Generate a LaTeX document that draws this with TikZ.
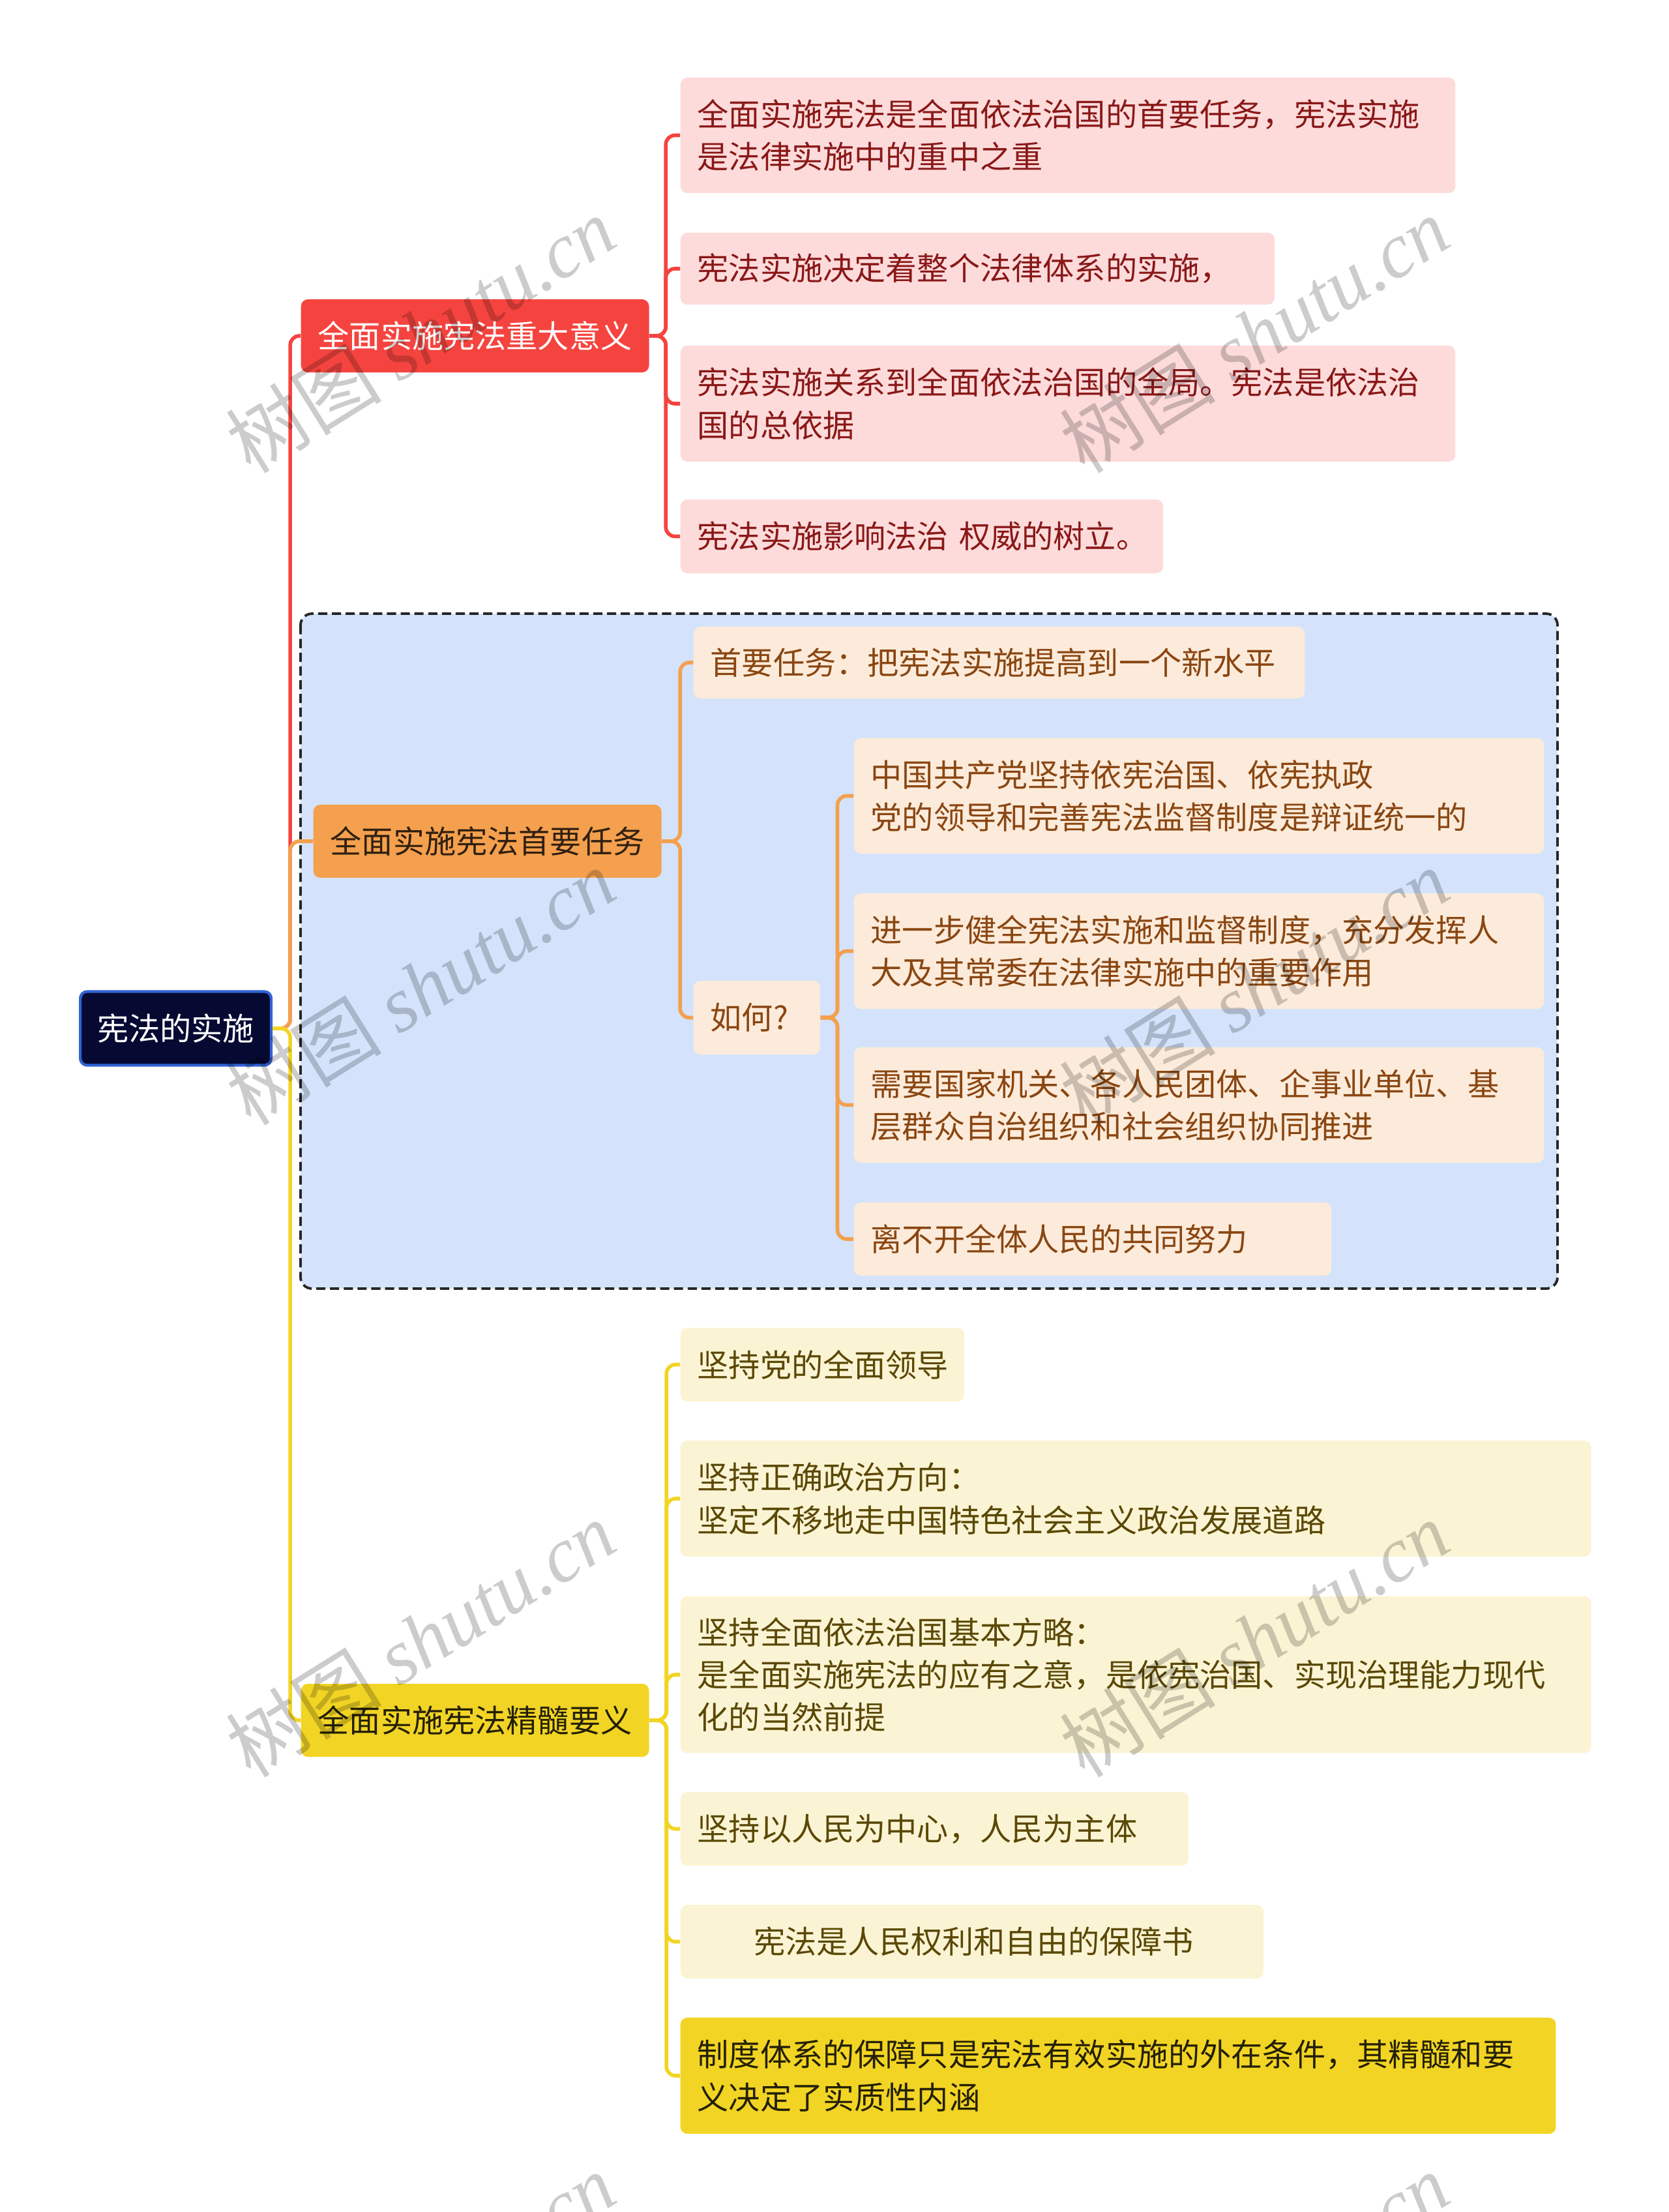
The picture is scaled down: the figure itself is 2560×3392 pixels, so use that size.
\documentclass[tikz,border=0pt]{standalone}
\usepackage{fontspec}
\setmainfont{Noto Sans CJK SC}
\newfontfamily\wmlatin{Liberation Serif}
\usepackage{tikz}
\definecolor{rootfill}{HTML}{060A33}
\definecolor{rootline}{HTML}{3062D2}
\definecolor{redmain}{HTML}{F5443F}
\definecolor{redwash}{HTML}{FDDBDB}
\definecolor{redtext}{HTML}{8A1818}
\definecolor{orangemain}{HTML}{F4A04E}
\definecolor{orangewash}{HTML}{FCEBDA}
\definecolor{orangetext}{HTML}{8A4612}
\definecolor{yellowmain}{HTML}{F2D425}
\definecolor{yellowwash}{HTML}{FBF4D4}
\definecolor{yellowtext}{HTML}{5A4805}
\definecolor{groupwash}{HTML}{D4E3FB}

\begin{document}
\begin{tikzpicture}[
  x=0.01cm, y=-0.01cm,
  every node/.style={font=\fontsize{13.7pt}{18.6pt}\selectfont},
  box/.style={rounded corners=3pt, anchor=west, inner xsep=0.26cm, inner ysep=0pt, align=center},
  leaf/.style n args={2}{box, align=left, text width=#1, minimum height=#2},
  rootbox/.style={box, draw=rootline, line width=1.2pt, fill=rootfill, text=white,
    font=\fontsize{13.7pt}{19pt}\selectfont, minimum width=2.88cm, minimum height=1.13cm},
  mainbox/.style={box, minimum width=5.32cm, minimum height=1.12cm, font=\fontsize{13.7pt}{19pt}\selectfont},
  redleaf/.style={fill=redwash, text=redtext},
  orangeleaf/.style={fill=orangewash, text=orangetext},
  yellowleaf/.style={fill=yellowwash, text=yellowtext},
  link/.style={line width=1.6pt, rounded corners=4pt},
  groupbox/.style={draw=black!85, fill=groupwash, line width=1.1pt, dash pattern=on 4pt off 2pt, rounded corners=5pt},
  wm/.style={text=black, text opacity=0.2, rotate=32, font=\fontsize{34pt}{34pt}\selectfont}
]
\useasboundingbox (0,0) rectangle (2560,3392);

% dashed group behind the second branch
\draw[groupbox] (461,941) rectangle (2389,1976);

% root and main branches
\node[rootbox] (root) at (121,1577) {宪法的实施};
\node[mainbox, fill=redmain, text=white] (sense) at (461,515) {全面实施宪法重大意义};
\node[mainbox, fill=orangemain, text=black!80!orangemain] (task) at (480,1290) {全面实施宪法首要任务};
\node[mainbox, fill=yellowmain, text=black!85!yellowmain, minimum width=5.30cm] (core) at (461,2638) {全面实施宪法精髓要义};

% first branch
\node[leaf={11.36cm}{1.77cm}, redleaf] (sense1) at (1043,207.5) {全面实施宪法是全面依法治国的首要任务，宪法实施\\是法律实施中的重中之重};
\node[leaf={8.59cm}{1.10cm}, redleaf] (sense2) at (1043,412) {宪法实施决定着整个法律体系的实施，};
\node[leaf={11.36cm}{1.78cm}, redleaf] (sense3) at (1043,619) {宪法实施关系到全面依法治国的全局。宪法是依法治\\国的总依据};
\node[leaf={6.88cm}{1.13cm}, redleaf] (sense4) at (1043,822.5) {宪法实施影响法治~权威的树立。};

% second branch
\node[leaf={8.85cm}{1.10cm}, orangeleaf] (task1) at (1063,1016) {首要任务：把宪法实施提高到一个新水平};
\node[leaf={1.42cm}{1.13cm}, orangeleaf] (how) at (1063,1560.5) {如何?};
\node[leaf={10.06cm}{1.77cm}, orangeleaf] (how1) at (1309,1220.5) {中国共产党坚持依宪治国、依宪执政\\党的领导和完善宪法监督制度是辩证统一的};
\node[leaf={10.06cm}{1.77cm}, orangeleaf] (how2) at (1309,1458.5) {进一步健全宪法实施和监督制度，充分发挥人\\大及其常委在法律实施中的重要作用};
\node[leaf={10.06cm}{1.77cm}, orangeleaf] (how3) at (1309,1694.5) {需要国家机关、各人民团体、企事业单位、基\\层群众自治组织和社会组织协同推进};
\node[leaf={6.80cm}{1.12cm}, orangeleaf] (how4) at (1309,1900) {离不开全体人民的共同努力};

% third branch
\node[leaf={3.83cm}{1.13cm}, yellowleaf] (core1) at (1043,2092.5) {坚持党的全面领导};
\node[leaf={13.44cm}{1.78cm}, yellowleaf] (core2) at (1043,2298) {坚持正确政治方向：\\坚定不移地走中国特色社会主义政治发展道路};
\node[leaf={13.44cm}{2.40cm}, yellowleaf] (core3) at (1043,2568) {坚持全面依法治国基本方略：\\是全面实施宪法的应有之意，是依宪治国、实现治理能力现代\\化的当然前提};
\node[leaf={7.27cm}{1.13cm}, yellowleaf] (core4) at (1043,2804.5) {坚持以人民为中心，人民为主体};
\node[leaf={8.42cm}{1.13cm}, yellowleaf] (core5) at (1043,2977.5) {\hspace*{1.8em}宪法是人民权利和自由的保障书};
\node[leaf={12.90cm}{1.78cm}, fill=yellowmain, text=black!85!yellowmain] (core6) at (1043,3183) {制度体系的保障只是宪法有效实施的外在条件，其精髓和要\\义决定了实质性内涵};

% connectors
\draw[link, draw=redmain] (root.east) -- ++(27,0) |- (sense.west);
\draw[link, draw=orangemain] (root.east) -- ++(27,0) |- (task.west);
\draw[link, draw=yellowmain] (root.east) -- ++(27,0) |- (core.west);

\draw[link, draw=redmain] (sense.east) -- ++(25,0) |- (sense1.west);
\draw[link, draw=redmain] (sense.east) -- ++(25,0) |- (sense2.west);
\draw[link, draw=redmain] (sense.east) -- ++(25,0) |- (sense3.west);
\draw[link, draw=redmain] (sense.east) -- ++(25,0) |- (sense4.west);

\draw[link, draw=orangemain] (task.east) -- ++(28,0) |- (task1.west);
\draw[link, draw=orangemain] (task.east) -- ++(28,0) |- (how.west);
\draw[link, draw=orangemain] (how.east) -- ++(26,0) |- (how1.west);
\draw[link, draw=orangemain] (how.east) -- ++(26,0) |- (how2.west);
\draw[link, draw=orangemain] (how.east) -- ++(26,0) |- (how3.west);
\draw[link, draw=orangemain] (how.east) -- ++(26,0) |- (how4.west);

\draw[link, draw=yellowmain] (core.east) -- ++(26,0) |- (core1.west);
\draw[link, draw=yellowmain] (core.east) -- ++(26,0) |- (core2.west);
\draw[link, draw=yellowmain] (core.east) -- ++(26,0) |- (core3.west);
\draw[link, draw=yellowmain] (core.east) -- ++(26,0) |- (core4.west);
\draw[link, draw=yellowmain] (core.east) -- ++(26,0) |- (core5.west);
\draw[link, draw=yellowmain] (core.east) -- ++(26,0) |- (core6.west);

% watermark
\foreach \wy in {513,1513,2513,3513}
  \foreach \wx in {645,1924}
    \node[wm] (mark-\wx-\wy) at (\wx,\wy) {树图 {\wmlatin\itshape shutu.cn}};
\end{tikzpicture}
\end{document}
